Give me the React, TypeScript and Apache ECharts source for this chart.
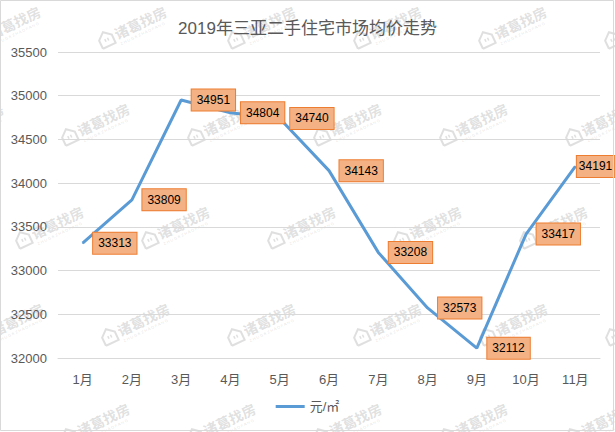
import React, { useEffect, useRef } from 'react';
import * as echarts from 'echarts';

const titleText = '2019年三亚二手住宅市场均价走势';
const seriesName = '元/㎡';
const categories = ['1月', '2月', '3月', '4月', '5月', '6月', '7月', '8月', '9月', '10月', '11月'];
const prices = [33313, 33809, 34951, 34804, 34740, 34143, 33208, 32573, 32112, 33417, 34191];
const yMin = 32000;
const yMax = 35500;
const yStep = 500;

const watermarkRows = [
  { y: 28, xs: [7, 133, 262, 388, 513, 639] },
  { y: 125, xs: [-30, 96, 222, 348, 474, 600] },
  { y: 228, xs: [50, 176, 302, 428, 554] },
  { y: 325, xs: [10, 136, 262, 388, 514, 640] },
  { y: 425, xs: [96, 222, 348, 474, 600] },
];

const FONT = "'Liberation Sans', 'Noto Sans CJK SC', sans-serif";
const CJK = "'Noto Sans CJK SC', sans-serif";

function watermark(x: number, y: number) {
  const c = 'rgba(150,150,150,0.3)';
  return {
    type: 'group',
    x,
    y,
    rotation: 0.44,
    z: 100,
    silent: true,
    children: [
      {
        type: 'polyline',
        shape: { points: [[-36, 6], [-36, -3], [-29, -9], [-22, -3], [-22, 6], [-36, 6]] },
        style: { stroke: c, lineWidth: 2, fill: 'none' },
      },
      { type: 'rect', shape: { x: -31, y: -2, width: 1.5, height: 3 }, style: { fill: c } },
      { type: 'rect', shape: { x: -28, y: -2, width: 1.5, height: 3 }, style: { fill: c } },
      {
        type: 'text',
        x: -19,
        y: -9,
        style: { text: '诸葛找房', font: `bold 14px ${CJK}`, fill: c },
      },
      {
        type: 'text',
        x: -18,
        y: 7,
        style: { text: 'Z H U G E Z H A O F A N G', font: `4px ${FONT}`, fill: c },
      },
    ],
  };
}

export default function App() {
  const ref = useRef<HTMLDivElement>(null);
  useEffect(() => {
    document.body.style.margin = '0';
    if (!ref.current) return;
    const chart = echarts.init(ref.current, null, { renderer: 'svg' });
    const marks: any[] = [];
    watermarkRows.forEach((r) => r.xs.forEach((x) => marks.push(watermark(x, r.y))));
    const option: any = {
      animation: false,
      backgroundColor: '#ffffff',
      title: {
        text: titleText,
        left: 'center',
        top: 15,
        textStyle: { color: '#595959', fontSize: 17, fontWeight: 'normal', fontFamily: FONT },
      },
      legend: {
        bottom: 14,
        left: 'center',
        icon: 'rect',
        itemWidth: 29,
        itemHeight: 3,
        itemGap: 6,
        textStyle: { color: '#595959', fontSize: 13, fontFamily: FONT },
        data: [seriesName],
      },
      grid: { left: 58, right: 15, top: 52, bottom: 74, containLabel: false },
      xAxis: {
        type: 'category',
        data: categories,
        boundaryGap: true,
        axisLine: { lineStyle: { color: '#D9D9D9' } },
        axisTick: { show: false },
        axisLabel: { color: '#595959', fontSize: 13, margin: 15, fontFamily: FONT },
      },
      yAxis: {
        type: 'value',
        min: yMin,
        max: yMax,
        interval: yStep,
        axisLine: { show: false },
        axisTick: { show: false },
        axisLabel: {
          color: '#595959',
          fontSize: 13,
          margin: 11,
          fontFamily: FONT,
          formatter: (v: number) => String(v),
        },
        splitLine: { lineStyle: { color: '#D9D9D9' } },
      },
      series: [
        {
          name: seriesName,
          type: 'line',
          data: prices.map((v, i) =>
            i === prices.length - 1
              ? { value: v, label: { distance: 1, padding: [3, 2, 4, 2] } }
              : v
          ),
          symbol: 'circle',
          symbolSize: 1,
          itemStyle: { color: '#5B9BD5' },
          lineStyle: { color: '#5B9BD5', width: 3 },
          label: {
            show: true,
            position: 'right',
            distance: 10,
            color: '#000000',
            fontSize: 12,
            fontFamily: FONT,
            lineHeight: 14,
            backgroundColor: '#F4B183',
            borderColor: '#ED7D31',
            borderWidth: 1,
            padding: [3, 5, 4, 5],
            formatter: (p: any) => String(p.value),
          },
        },
      ],
      graphic: [
        {
          type: 'rect',
          z: 200,
          silent: true,
          shape: { x: 0.5, y: 0.5, width: 613, height: 430 },
          style: { fill: 'none', stroke: '#D9D9D9', lineWidth: 1 },
        },
        ...marks,
      ],
    };
    chart.setOption(option);
    return () => chart.dispose();
  }, []);
  return <div ref={ref} style={{ width: 615, height: 432 }} />;
}
